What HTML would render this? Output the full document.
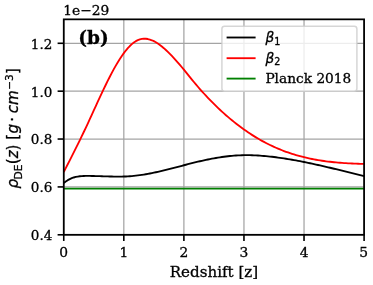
<!DOCTYPE html>
<html><head><meta charset="utf-8"><title>plot</title>
<style>html,body{margin:0;padding:0;background:#fff;overflow:hidden}svg{display:block}text{stroke:#000;stroke-width:0.3px;fill:#000}</style>
</head><body>
<svg width="373" height="285" viewBox="0 0 373 285">
<rect width="373" height="285" fill="#fff"/>
<line x1="63.75" x2="63.75" y1="19.35" y2="234.8" stroke="#a4a4a4" stroke-width="1.25"/>
<line x1="123.82" x2="123.82" y1="19.35" y2="234.8" stroke="#a4a4a4" stroke-width="1.25"/>
<line x1="183.89" x2="183.89" y1="19.35" y2="234.8" stroke="#a4a4a4" stroke-width="1.25"/>
<line x1="243.96" x2="243.96" y1="19.35" y2="234.8" stroke="#a4a4a4" stroke-width="1.25"/>
<line x1="304.03" x2="304.03" y1="19.35" y2="234.8" stroke="#a4a4a4" stroke-width="1.25"/>
<line x1="364.10" x2="364.10" y1="19.35" y2="234.8" stroke="#a4a4a4" stroke-width="1.25"/>
<line x1="63.75" x2="364.1" y1="234.80" y2="234.80" stroke="#a4a4a4" stroke-width="1.25"/>
<line x1="63.75" x2="364.1" y1="186.92" y2="186.92" stroke="#a4a4a4" stroke-width="1.25"/>
<line x1="63.75" x2="364.1" y1="139.04" y2="139.04" stroke="#a4a4a4" stroke-width="1.25"/>
<line x1="63.75" x2="364.1" y1="91.17" y2="91.17" stroke="#a4a4a4" stroke-width="1.25"/>
<line x1="63.75" x2="364.1" y1="43.29" y2="43.29" stroke="#a4a4a4" stroke-width="1.25"/>
<clipPath id="c"><rect x="63.75" y="19.35" width="300.35" height="215.45000000000002"/></clipPath>
<g clip-path="url(#c)" fill="none" stroke-linejoin="round">
<path d="M63.75,183.01 L65.75,181.46 L67.75,180.15 L69.76,179.07 L71.76,178.19 L73.76,177.49 L75.76,176.95 L77.77,176.55 L79.77,176.27 L81.77,176.08 L83.77,175.98 L85.78,175.93 L87.78,175.92 L89.78,175.93 L91.78,175.96 L93.78,176.00 L95.79,176.05 L97.79,176.10 L99.79,176.17 L101.79,176.23 L103.80,176.30 L105.80,176.36 L107.80,176.43 L109.80,176.48 L111.81,176.53 L113.81,176.57 L115.81,176.59 L117.81,176.61 L119.82,176.60 L121.82,176.57 L123.82,176.53 L125.82,176.46 L127.82,176.36 L129.83,176.24 L131.83,176.08 L133.83,175.90 L135.83,175.68 L137.84,175.44 L139.84,175.18 L141.84,174.89 L143.84,174.57 L145.85,174.24 L147.85,173.88 L149.85,173.50 L151.85,173.11 L153.86,172.69 L155.86,172.27 L157.86,171.82 L159.86,171.36 L161.86,170.89 L163.87,170.41 L165.87,169.92 L167.87,169.42 L169.87,168.91 L171.88,168.40 L173.88,167.88 L175.88,167.36 L177.88,166.83 L179.89,166.31 L181.89,165.78 L183.89,165.25 L185.89,164.73 L187.89,164.21 L189.90,163.70 L191.90,163.19 L193.90,162.69 L195.90,162.19 L197.91,161.71 L199.91,161.24 L201.91,160.78 L203.91,160.33 L205.92,159.90 L207.92,159.48 L209.92,159.08 L211.92,158.69 L213.93,158.32 L215.93,157.97 L217.93,157.63 L219.93,157.32 L221.93,157.02 L223.94,156.75 L225.94,156.49 L227.94,156.25 L229.94,156.04 L231.95,155.85 L233.95,155.68 L235.95,155.53 L237.95,155.41 L239.96,155.31 L241.96,155.23 L243.96,155.19 L245.96,155.16 L247.96,155.17 L249.97,155.19 L251.97,155.24 L253.97,155.31 L255.97,155.41 L257.98,155.52 L259.98,155.65 L261.98,155.80 L263.98,155.97 L265.99,156.15 L267.99,156.35 L269.99,156.56 L271.99,156.79 L274.00,157.03 L276.00,157.28 L278.00,157.55 L280.00,157.83 L282.00,158.12 L284.01,158.42 L286.01,158.73 L288.01,159.05 L290.01,159.39 L292.02,159.73 L294.02,160.09 L296.02,160.45 L298.02,160.82 L300.03,161.20 L302.03,161.59 L304.03,161.99 L306.03,162.40 L308.03,162.81 L310.04,163.24 L312.04,163.66 L314.04,164.10 L316.04,164.54 L318.05,164.99 L320.05,165.44 L322.05,165.90 L324.05,166.36 L326.06,166.83 L328.06,167.30 L330.06,167.77 L332.06,168.25 L334.06,168.73 L336.07,169.22 L338.07,169.70 L340.07,170.19 L342.07,170.68 L344.08,171.18 L346.08,171.67 L348.08,172.16 L350.08,172.66 L352.09,173.15 L354.09,173.65 L356.09,174.14 L358.09,174.63 L360.10,175.12 L362.10,175.61 L364.10,176.10" stroke="#000" stroke-width="1.85"/>
<path d="M63.75,171.99 L65.75,168.11 L67.75,164.21 L69.76,160.30 L71.76,156.36 L73.76,152.39 L75.76,148.40 L77.77,144.36 L79.77,140.29 L81.77,136.17 L83.77,132.01 L85.78,127.79 L87.78,123.52 L89.78,119.20 L91.78,114.84 L93.78,110.47 L95.79,106.09 L97.79,101.73 L99.79,97.40 L101.79,93.11 L103.80,88.88 L105.80,84.73 L107.80,80.67 L109.80,76.71 L111.81,72.88 L113.81,69.18 L115.81,65.62 L117.81,62.23 L119.82,59.01 L121.82,55.98 L123.82,53.16 L125.82,50.54 L127.82,48.16 L129.83,46.01 L131.83,44.13 L133.83,42.51 L135.83,41.17 L137.84,40.13 L139.84,39.38 L141.84,38.91 L143.84,38.71 L145.85,38.75 L147.85,39.04 L149.85,39.54 L151.85,40.26 L153.86,41.17 L155.86,42.27 L157.86,43.53 L159.86,44.94 L161.86,46.50 L163.87,48.18 L165.87,49.98 L167.87,51.87 L169.87,53.85 L171.88,55.92 L173.88,58.06 L175.88,60.27 L177.88,62.55 L179.89,64.89 L181.89,67.27 L183.89,69.70 L185.89,72.17 L187.89,74.65 L189.90,77.14 L191.90,79.60 L193.90,82.02 L195.90,84.40 L197.91,86.74 L199.91,89.04 L201.91,91.29 L203.91,93.50 L205.92,95.68 L207.92,97.81 L209.92,99.90 L211.92,101.95 L213.93,103.96 L215.93,105.93 L217.93,107.86 L219.93,109.75 L221.93,111.60 L223.94,113.41 L225.94,115.19 L227.94,116.92 L229.94,118.62 L231.95,120.28 L233.95,121.90 L235.95,123.49 L237.95,125.03 L239.96,126.55 L241.96,128.02 L243.96,129.46 L245.96,130.86 L247.96,132.23 L249.97,133.56 L251.97,134.86 L253.97,136.12 L255.97,137.34 L257.98,138.54 L259.98,139.69 L261.98,140.82 L263.98,141.91 L265.99,142.96 L267.99,143.99 L269.99,144.98 L271.99,145.94 L274.00,146.86 L276.00,147.75 L278.00,148.62 L280.00,149.45 L282.00,150.25 L284.01,151.02 L286.01,151.76 L288.01,152.47 L290.01,153.15 L292.02,153.81 L294.02,154.44 L296.02,155.04 L298.02,155.62 L300.03,156.17 L302.03,156.70 L304.03,157.20 L306.03,157.68 L308.03,158.13 L310.04,158.57 L312.04,158.98 L314.04,159.37 L316.04,159.74 L318.05,160.09 L320.05,160.42 L322.05,160.73 L324.05,161.02 L326.06,161.30 L328.06,161.55 L330.06,161.79 L332.06,162.02 L334.06,162.23 L336.07,162.42 L338.07,162.60 L340.07,162.77 L342.07,162.92 L344.08,163.07 L346.08,163.19 L348.08,163.31 L350.08,163.42 L352.09,163.52 L354.09,163.60 L356.09,163.68 L358.09,163.75 L360.10,163.81 L362.10,163.87 L364.10,163.91" stroke="#f00" stroke-width="1.85"/>
<line x1="63.75" x2="364.1" y1="188.65" y2="188.65" stroke="#008000" stroke-width="1.85"/>
</g>
<line x1="63.75" x2="63.75" y1="234.8" y2="240.95000000000002" stroke="#000" stroke-width="1.6"/>
<line x1="123.82" x2="123.82" y1="234.8" y2="240.95000000000002" stroke="#000" stroke-width="1.6"/>
<line x1="183.89" x2="183.89" y1="234.8" y2="240.95000000000002" stroke="#000" stroke-width="1.6"/>
<line x1="243.96" x2="243.96" y1="234.8" y2="240.95000000000002" stroke="#000" stroke-width="1.6"/>
<line x1="304.03" x2="304.03" y1="234.8" y2="240.95000000000002" stroke="#000" stroke-width="1.6"/>
<line x1="364.10" x2="364.10" y1="234.8" y2="240.95000000000002" stroke="#000" stroke-width="1.6"/>
<line x1="57.6" x2="63.75" y1="234.80" y2="234.80" stroke="#000" stroke-width="1.6"/>
<line x1="57.6" x2="63.75" y1="186.92" y2="186.92" stroke="#000" stroke-width="1.6"/>
<line x1="57.6" x2="63.75" y1="139.04" y2="139.04" stroke="#000" stroke-width="1.6"/>
<line x1="57.6" x2="63.75" y1="91.17" y2="91.17" stroke="#000" stroke-width="1.6"/>
<line x1="57.6" x2="63.75" y1="43.29" y2="43.29" stroke="#000" stroke-width="1.6"/>
<rect x="63.75" y="19.35" width="300.35" height="215.45000000000002" fill="none" stroke="#000" stroke-width="1.75"/>
<text x="63.75" y="257.3" font-family="'DejaVu Serif','Liberation Serif',serif" font-size="13.8" text-anchor="middle">0</text>
<text x="123.82" y="257.3" font-family="'DejaVu Serif','Liberation Serif',serif" font-size="13.8" text-anchor="middle">1</text>
<text x="183.89" y="257.3" font-family="'DejaVu Serif','Liberation Serif',serif" font-size="13.8" text-anchor="middle">2</text>
<text x="243.96" y="257.3" font-family="'DejaVu Serif','Liberation Serif',serif" font-size="13.8" text-anchor="middle">3</text>
<text x="304.03" y="257.3" font-family="'DejaVu Serif','Liberation Serif',serif" font-size="13.8" text-anchor="middle">4</text>
<text x="363.75" y="257.3" font-family="'DejaVu Serif','Liberation Serif',serif" font-size="13.8" text-anchor="middle">5</text>
<text x="52.3" y="240.22" font-family="'DejaVu Serif','Liberation Serif',serif" font-size="13.5" text-anchor="end">0.4</text>
<text x="52.3" y="192.34" font-family="'DejaVu Serif','Liberation Serif',serif" font-size="13.5" text-anchor="end">0.6</text>
<text x="52.3" y="144.47" font-family="'DejaVu Serif','Liberation Serif',serif" font-size="13.5" text-anchor="end">0.8</text>
<text x="52.3" y="96.59" font-family="'DejaVu Serif','Liberation Serif',serif" font-size="13.5" text-anchor="end">1.0</text>
<text x="52.3" y="48.71" font-family="'DejaVu Serif','Liberation Serif',serif" font-size="13.5" text-anchor="end">1.2</text>
<text x="63.35" y="14.8" font-family="'DejaVu Serif','Liberation Serif',serif" font-size="13.8">1e−29</text>
<text x="213.93" y="277.2" font-family="'DejaVu Serif','Liberation Serif',serif" font-size="15.08" text-anchor="middle">Redshift [z]</text>
<text transform="translate(18.4,188.5) rotate(-90)" font-family="'DejaVu Sans','Liberation Sans',sans-serif" font-size="15.15"><tspan font-style="italic">ρ</tspan><tspan font-size="10.56" dy="3.2" dx="-0.6">DE</tspan><tspan dy="-3.2" dx="0.4">(</tspan><tspan font-style="italic">z</tspan>) [<tspan font-style="italic" dx="0.4">g</tspan><tspan dx="1.9">·</tspan><tspan font-style="italic" dx="3.8">cm</tspan><tspan font-size="10.56" dy="-5.4" dx="0.4">−3</tspan><tspan dy="5.4" dx="0.3">]</tspan></text>
<text x="78.3" y="44.3" font-family="'DejaVu Serif','Liberation Serif',serif" font-size="18.5" font-weight="bold">(b)</text>
<rect x="221.9" y="26.35" width="134.99999999999997" height="64.94999999999999" rx="2.7" fill="#fff" fill-opacity="0.8" stroke="#ccc" stroke-opacity="0.8" stroke-width="1.5"/>
<line x1="226.6" x2="255.6" y1="37.5" y2="37.5" stroke="#000" stroke-width="1.85"/>
<line x1="226.6" x2="255.6" y1="58.2" y2="58.2" stroke="#f00" stroke-width="1.85"/>
<line x1="226.6" x2="255.6" y1="78.6" y2="78.6" stroke="#008000" stroke-width="1.85"/>
<text x="265.4" y="42.0" font-family="'DejaVu Sans','Liberation Sans',sans-serif" font-size="13.72"><tspan font-style="italic">β</tspan><tspan font-size="9.60" dy="2.6">1</tspan></text>
<text x="265.4" y="62.65" font-family="'DejaVu Sans','Liberation Sans',sans-serif" font-size="13.72"><tspan font-style="italic">β</tspan><tspan font-size="9.60" dy="2.6">2</tspan></text>
<text x="265.4" y="83.3" font-family="'DejaVu Serif','Liberation Serif',serif" font-size="13.72">Planck 2018</text>
</svg>
</body></html>
